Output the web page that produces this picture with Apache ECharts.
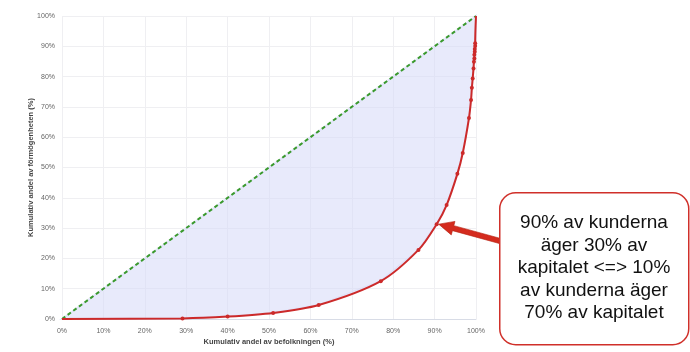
<!DOCTYPE html>
<html>
<head>
<meta charset="utf-8">
<script src="https://cdn.jsdelivr.net/npm/echarts@6/dist/echarts.min.js"></script>
<style>
  html, body { margin: 0; padding: 0; background: #fff; }
  #chart { width: 690px; height: 352px; }
</style>
</head>
<body>
<div id="chart"></div>
<script>
// Lorenz curve (% of population, % of wealth)
var befolkning = [0, 29.1, 40.0, 51.0, 62.0, 77.0, 86.1, 90.5, 92.9, 95.5, 96.8, 98.3, 98.8, 99.0, 99.2, 99.4, 99.5, 99.6, 99.6, 99.7, 99.7, 99.8, 99.8, 100];
var formogenhet = [0, 0.2, 0.8, 2.0, 4.6, 12.5, 22.8, 31.3, 37.6, 47.9, 54.8, 66.3, 72.3, 76.3, 79.4, 82.7, 84.9, 86.0, 87.2, 88.2, 89.1, 90.1, 91.0, 100];
var jamlikhet = [[0, 0], [100, 100]];
var pekpunkt = [90.5, 31.3];
var ticks = [0, 10, 20, 30, 40, 50, 60, 70, 80, 90, 100];
var rutaText = '90% av kunderna\näger 30% av\nkapitalet <=> 10%\nav kunderna äger\n70% av kapitalet';

var kurva = befolkning.map(function (x, i) { return [x, formogenhet[i]]; });

var myChart = echarts.init(document.getElementById('chart'));

var axisCommon = {
    type: 'value',
    min: ticks[0],
    max: ticks[ticks.length - 1],
    interval: 10,
    nameLocation: 'middle',
    nameMoveOverlap: false,
    nameTextStyle: { color: '#444', fontSize: 7.5, fontWeight: 'bold', fontFamily: 'Liberation Sans' },
    axisTick: { show: false },
    axisLabel: { color: '#666', fontSize: 7, fontFamily: 'Liberation Sans', formatter: '{value}%' },
    splitLine: { show: true, lineStyle: { color: '#efeff2', width: 1 } }
};

var option = {
    backgroundColor: '#fff',
    animation: false,
    grid: { left: 62, right: 214, top: 16, bottom: 33 },
    xAxis: Object.assign({}, axisCommon, {
        name: 'Kumulativ andel av befolkningen (%)',
        nameGap: 19,
        axisLine: { show: true, lineStyle: { color: '#d8dce6' } },
        axisLabel: Object.assign({}, axisCommon.axisLabel, { margin: 9 })
    }),
    yAxis: Object.assign({}, axisCommon, {
        name: 'Kumulativ andel av förmögenheten (%)',
        nameGap: 27,
        axisLine: { show: false },
        axisLabel: Object.assign({}, axisCommon.axisLabel, { margin: 7 })
    }),
    series: [{
        // area between equality line and the curve
        type: 'custom',
        z: 1,
        silent: true,
        data: [0],
        renderItem: function (params, api) {
            var pts = kurva.map(function (p) { return api.coord(p); });
            pts.push(api.coord(jamlikhet[0]));
            return {
                type: 'polygon',
                shape: { points: pts },
                style: { fill: 'rgba(214,216,248,0.55)', stroke: 'rgba(214,216,248,0.55)', lineWidth: 2 }
            };
        }
    }, {
        type: 'line',
        data: jamlikhet,
        z: 3,
        symbol: 'none',
        lineStyle: { color: '#3a9a2c', width: 2, type: [4, 3] }
    }, {
        type: 'line',
        data: kurva,
        z: 4,
        smooth: 0.3,
        symbol: 'circle',
        // no markers on the two end points
        symbolSize: function (val, params) {
            return (params.dataIndex === 0 || params.dataIndex === kurva.length - 1) ? 0 : 4;
        },
        showSymbol: true,
        itemStyle: { color: '#cc2a2a' },
        lineStyle: { color: '#cc2a2a', width: 2 }
    }]
};
myChart.setOption(option);

// callout box with arrow pointing at the curve
var tip = myChart.convertToPixel({ gridIndex: 0 }, pekpunkt);
tip = [tip[0] + 2, tip[1]];
var tail = [500, 241];
var dx = tip[0] - tail[0], dy = tip[1] - tail[1];
var len = Math.sqrt(dx * dx + dy * dy);
var ux = dx / len, uy = dy / len, nx = -uy, ny = ux;
var headLen = 15, headW = 7, shaftW = 2.6;
var bx = tip[0] - ux * headLen, by = tip[1] - uy * headLen;
var arrowPts = [
    [tail[0] + nx * shaftW, tail[1] + ny * shaftW],
    [bx + nx * shaftW, by + ny * shaftW],
    [bx + nx * headW, by + ny * headW],
    tip,
    [bx - nx * headW, by - ny * headW],
    [bx - nx * shaftW, by - ny * shaftW],
    [tail[0] - nx * shaftW, tail[1] - ny * shaftW]
];

myChart.setOption({
    graphic: [{
        type: 'polygon',
        z: 10,
        shape: { points: arrowPts },
        style: { fill: '#d42b1e', stroke: '#b3200f', lineWidth: 0.6 }
    }, {
        type: 'rect',
        z: 11,
        left: 499,
        top: 192,
        shape: { width: 189, height: 152, r: 16 },
        style: { fill: '#fff', stroke: '#d0302a', lineWidth: 1.5 }
    }, {
        type: 'text',
        z: 12,
        x: 594,
        y: 268,
        style: {
            text: rutaText,
            fill: '#111',
            font: '19px "Liberation Sans", Arial, sans-serif',
            lineHeight: 22.5,
            align: 'center',
            verticalAlign: 'middle'
        }
    }]
});
</script>
</body>
</html>
